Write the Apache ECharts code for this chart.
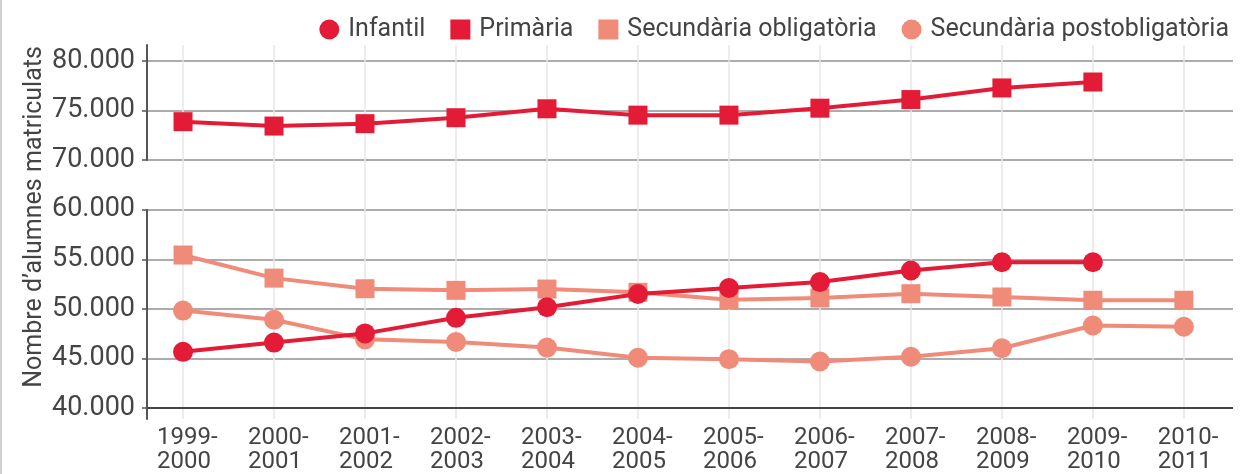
<!DOCTYPE html>
<html>
<head>
<meta charset="utf-8">
<script src="https://cdn.jsdelivr.net/npm/echarts@6.0.0/dist/echarts.min.js"></script>
<style>
html, body { margin: 0; padding: 0; background: #fff; }
#container { width: 1240px; height: 474px; border-left: 2px solid #d0d0d0; }
</style>
</head>
<body>
<div id="container"></div>
<script>
var cursos = ['1999-2000', '2000-2001', '2001-2002', '2002-2003', '2003-2004', '2004-2005',
	'2005-2006', '2006-2007', '2007-2008', '2008-2009', '2009-2010', '2010-2011'];
var infantil = [45670, 46600, 47530, 49100, 50170, 51500, 52100, 52700, 53870, 54700, 54700, null];
var primaria = [73870, 73430, 73670, 74270, 75170, 74530, 74530, 75230, 76100, 77270, 77870, null];
var secObligatoria = [55430, 53100, 52030, 51870, 52000, 51670, 50930, 51100, 51530, 51200, 50870, 50870];
var secPostobligatoria = [49830, 48900, 46930, 46670, 46100, 45070, 44930, 44700, 45170, 46030, 48330, 48200];
var yTicks = [40000, 45000, 50000, 55000, 60000, 70000, 75000, 80000];

var vermell = '#e31b36';
var salmo = '#ef8b78';
var font = 'Roboto';

function punts(values) {
	return values.map(function(v, i) {
		return [i, v === null ? '-' : v];
	});
}
var xIdx = cursos.map(function(c, i) { return i; });

var dom = document.getElementById("container");
var myChart = echarts.init(dom);
var option = {
	animation: false,
	textStyle: { fontFamily: font },
	legend: {
		top: 12,
		right: 8,
		itemWidth: 20,
		itemHeight: 20,
		itemGap: 25,
		data: [
			{ name: 'Infantil', icon: 'circle' },
			{ name: 'Primària', icon: 'rect' },
			{ name: 'Secundària obligatòria', icon: 'rect' },
			{ name: 'Secundària postobligatòria', icon: 'circle' }
		],
		textStyle: { fontSize: 25, color: '#444', fontFamily: font, padding: [0, 0, 0, 4] }
	},
	grid: { left: 145, right: 9, top: 45, bottom: 52 },
	xAxis: {
		type: 'value',
		min: -0.396,
		max: 11.54,
		axisLine: { show: false },
		axisTick: { show: false, customValues: xIdx },
		splitLine: { show: true, lineStyle: { color: '#e6e6e6', width: 1.5 } },
		axisLabel: {
			customValues: xIdx,
			margin: 7,
			formatter: function(v) {
				var c = cursos[Math.round(v)];
				if (!c) return '';
				var p = c.split('-');
				return '{a|' + p[0] + '-}\n{a|' + p[1] + '}';
			},
			rich: {
				a: { width: 52, align: 'left', fontSize: 24, lineHeight: 24, color: '#444', fontFamily: font }
			}
		}
	},
	yAxis: {
		type: 'value',
		min: 38900,
		max: 81600,
		breaks: [{ start: 60000, end: 70000, gap: 5000 }],
		breakArea: { show: false },
		name: 'Nombre d’alumnes matriculats',
		nameLocation: 'middle',
		nameGap: 100,
		nameMoveOverlap: false,
		nameTextStyle: { fontSize: 25, color: '#444', fontFamily: font, padding: [0, 0, 0, 30] },
		axisLine: { show: true, onZero: false, lineStyle: { color: '#555', width: 2 } },
		axisTick: { show: true, length: 5, customValues: yTicks, lineStyle: { color: '#555', width: 1.5 } },
		splitLine: { show: true, lineStyle: { color: '#909090', width: 1.5 } },
		axisLabel: {
			customValues: yTicks,
			margin: 12,
			formatter: function(v) {
				return '{n|' + echarts.format.addCommas(v).replace(/,/g, '.') + '}';
			},
			rich: {
				n: { fontSize: 27, color: '#444', fontFamily: font }
			}
		}
	},
	series: [
		{
			name: 'Infantil',
			type: 'line',
			z: 4,
			symbol: 'circle',
			symbolSize: 20,
			data: punts(infantil),
			lineStyle: { color: vermell, width: 4 },
			itemStyle: { color: vermell },
			markLine: {
				silent: true,
				symbol: ['none', 'none'],
				label: { show: false },
				lineStyle: { color: '#444', width: 2, type: 'solid' },
				data: [{ yAxis: 40000 }]
			}
		},
		{
			name: 'Primària',
			type: 'line',
			z: 4,
			symbol: 'rect',
			symbolSize: 19,
			data: punts(primaria),
			lineStyle: { color: vermell, width: 4 },
			itemStyle: { color: vermell }
		},
		{
			name: 'Secundària obligatòria',
			type: 'line',
			z: 2,
			symbol: 'rect',
			symbolSize: 19,
			data: punts(secObligatoria),
			lineStyle: { color: salmo, width: 4 },
			itemStyle: { color: salmo }
		},
		{
			name: 'Secundària postobligatòria',
			type: 'line',
			z: 2,
			symbol: 'circle',
			symbolSize: 20,
			data: punts(secPostobligatoria),
			lineStyle: { color: salmo, width: 4 },
			itemStyle: { color: salmo }
		}
	]
};
myChart.setOption(option, true);
</script>
</body>
</html>
